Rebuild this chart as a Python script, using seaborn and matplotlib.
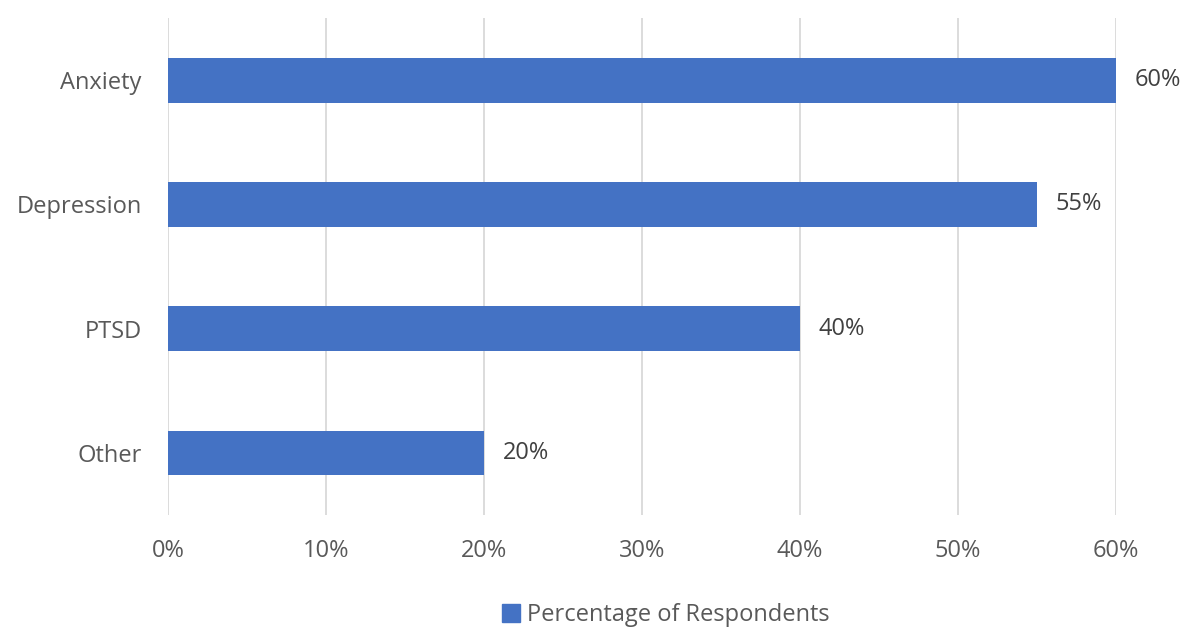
import seaborn as sns
import matplotlib.pyplot as plt
import pandas as pd
from matplotlib.patches import Patch

conditions = ['Anxiety', 'Depression', 'PTSD', 'Other']
percentages = [60, 55, 40, 20]
tick_vals = [0, 10, 20, 30, 40, 50, 60]

df = pd.DataFrame({'condition': conditions, 'pct': percentages})

sns.set_style('white')
plt.rcParams['font.family'] = ['Open Sans', 'DejaVu Sans']
grey = '#595959'
blue = '#4472C4'
fs = 17

fig = plt.figure(figsize=(12, 6.43), dpi=100)
ax = fig.add_axes([0.14, 0.199, 0.79, 0.773])

sns.barplot(data=df, x='pct', y='condition', color=blue, width=0.36,
            saturation=1, linewidth=0, ax=ax, zorder=3)

ax.set_xlim(0, 60)
ax.set_ylim(3.5, -0.5)
ax.set_xticks(tick_vals)
ax.set_xticklabels([f'{v}%' for v in tick_vals])
ax.grid(axis='x', color='#D9D9D9', linewidth=1.3, zorder=0)
ax.grid(axis='y', visible=False)
for s in ax.spines.values():
    s.set_visible(False)
ax.tick_params(axis='both', length=0, labelsize=fs, labelcolor=grey)
ax.tick_params(axis='x', pad=17)
ax.tick_params(axis='y', pad=19)
ax.set_xlabel('')
ax.set_ylabel('')

for i, v in enumerate(percentages):
    ax.text(v + 1.2, i, f'{v}%', va='center', ha='left', fontsize=fs, color='#404040')

fig.legend(handles=[Patch(color=blue, label='Percentage of Respondents')],
           loc='center', bbox_to_anchor=(0.555, 0.043), frameon=False,
           fontsize=fs, labelcolor=grey, handlelength=0.75, handleheight=0.75,
           handletextpad=0.3)

fig.savefig('out.png', dpi=100)
